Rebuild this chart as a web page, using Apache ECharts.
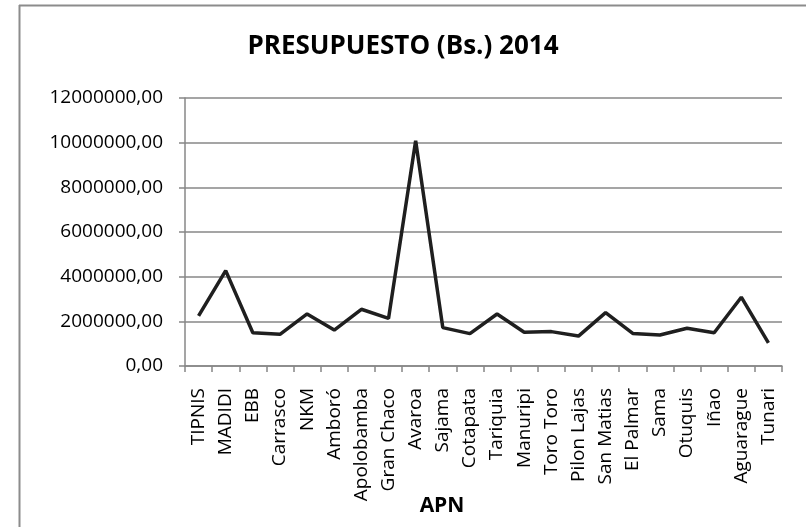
<!DOCTYPE html>
<html>
<head>
<meta charset="utf-8">
<script src="https://cdn.jsdelivr.net/npm/echarts@6/dist/echarts.min.js"></script>
<style>html,body{margin:0;padding:0;background:#fff}#c{width:806px;height:527px}</style>
</head>
<body>
<div id="c"></div>
<script>
const categories = ["TIPNIS","MADIDI","EBB","Carrasco","NKM","Amboró","Apolobamba","Gran Chaco","Avaroa","Sajama","Cotapata","Tariquia","Manuripi","Toro Toro","Pilon Lajas","San Matias","El Palmar","Sama","Otuquis","Iñao","Aguarague","Tunari"];
const presupuesto = [2240000,4270000,1490000,1420000,2330000,1610000,2540000,2130000,10090000,1720000,1450000,2330000,1510000,1540000,1340000,2390000,1460000,1390000,1690000,1490000,3080000,1040000];
const yTicks = {min:0, max:12000000, interval:2000000};
const titleText = "PRESUPUESTO (Bs.) 2014";
const xTitle = "APN";

const chart = echarts.init(document.getElementById('c'), null, {renderer:'canvas'});
const FONT = '"Open Sans", "Noto Sans", sans-serif';
chart.setOption({
  animation:false,
  backgroundColor:'#fff',
  title:{text:titleText,left:'center',top:29,textStyle:{fontFamily:FONT,fontWeight:'bold',fontSize:26,color:'#000'}},
  graphic:[
    {type:'line',shape:{x1:19.5,y1:5,x2:19.5,y2:527},style:{stroke:'#8c8c8c',lineWidth:2}},
    {type:'line',shape:{x1:19,y1:5.5,x2:806,y2:5.5},style:{stroke:'#8c8c8c',lineWidth:2}},
    {type:'text',x:442,y:506,style:{text:xTitle,fontFamily:FONT,fontWeight:'bold',fontSize:21,fill:'#000',textAlign:'center',textVerticalAlign:'middle'}}
  ],
  grid:{left:185,right:24,top:98,bottom:161,containLabel:false},
  xAxis:{type:'category',data:categories,boundaryGap:true,
    axisLine:{lineStyle:{color:'#878787',width:1.5}},
    axisTick:{show:true,length:6,lineStyle:{color:'#878787',width:1.5},alignWithLabel:false},
    axisLabel:{rotate:90,interval:0,margin:22,fontFamily:FONT,fontSize:19,color:'#000'},
    splitLine:{show:false}},
  yAxis:{type:'value',min:yTicks.min,max:yTicks.max,interval:yTicks.interval,
    axisLine:{show:true,lineStyle:{color:'#878787',width:1.5}},
    axisTick:{show:true,length:6,lineStyle:{color:'#878787',width:1.5}},
    axisLabel:{margin:22,fontFamily:FONT,fontSize:19,color:'#000',formatter:v=>String(v)+',00'},
    splitLine:{show:true,lineStyle:{color:'#878787',width:1.5}}},
  series:[{type:'line',data:presupuesto,showSymbol:false,symbol:'none',
    lineStyle:{color:'#1f1f1f',width:3.5},z:5}]
});
</script>
</body>
</html>
